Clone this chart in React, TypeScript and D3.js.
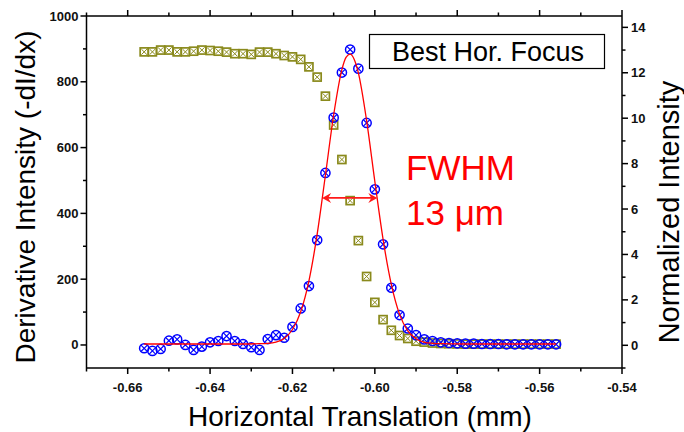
import React from "react";
import * as d3 from "d3";

// horizontal position of every scan point (mm)
const positions = [
  -0.656, -0.654, -0.652, -0.65, -0.648, -0.646, -0.644, -0.642, -0.64, -0.638,
  -0.636, -0.634, -0.632, -0.63, -0.628, -0.626, -0.624, -0.622, -0.62, -0.618,
  -0.616, -0.614, -0.612, -0.61, -0.608, -0.606, -0.604, -0.602, -0.6, -0.598,
  -0.596, -0.594, -0.592, -0.59, -0.588, -0.586, -0.584, -0.582, -0.58, -0.578,
  -0.576, -0.574, -0.572, -0.57, -0.568, -0.566, -0.564, -0.562, -0.56, -0.558,
  -0.556,
];

// derivative -dI/dx (left axis)
const derivative = [
  -10, -18, -12, 13, 17, 0, -15, -5, 8, 12,
  27, 12, 3, -7, -15, 18, 30, 22, 55, 111,
  179, 319, 523, 691, 828, 898, 840, 675, 473, 306,
  174, 91, 50, 30, 17, 12, 8, 6, 5, 4,
  4, 3, 3, 3, 2, 2, 2, 2, 2, 2,
  2,
];

// normalized intensity (right axis)
const normalized = [
  12.92, 12.92, 13.0, 13.0, 12.92, 12.92, 12.95, 13.0, 12.98, 12.95,
  12.91, 12.84, 12.84, 12.81, 12.91, 12.91, 12.84, 12.76, 12.7, 12.59,
  12.26, 11.81, 10.97, 9.7, 8.18, 6.37, 4.61, 3.03, 1.89, 1.13,
  0.66, 0.43, 0.3, 0.18, 0.14, 0.1, 0.08, 0.07, 0.06, 0.05,
  0.05, 0.05, 0.05, 0.05, 0.05, 0.05, 0.05, 0.05, 0.05, 0.05,
  0.05,
];

// gaussian fit line
const fitX = [
  -0.656, -0.65, -0.644, -0.638, -0.632, -0.628, -0.626, -0.624, -0.622, -0.62,
  -0.618, -0.616, -0.614, -0.612, -0.61, -0.608, -0.607, -0.606, -0.605, -0.604,
  -0.602, -0.6, -0.598, -0.596, -0.594, -0.592, -0.59, -0.588, -0.586, -0.584,
  -0.578, -0.57, -0.562, -0.556,
];
const fitY = [
  3, 3, 3, 3, 3, 4, 5, 9, 20, 47,
  101, 195, 337, 516, 699, 837, 874, 884, 868, 827,
  682, 497, 321, 184, 93, 43, 19, 8, 5, 4,
  3, 3, 3, 3,
];

// FWHM marker
const fwhmLeft = -0.6128;
const fwhmRight = -0.5994;
const fwhmLevel = 447;

const xTicks = [-0.66, -0.64, -0.62, -0.6, -0.58, -0.56, -0.54];
const xTickLabels = ["-0.66", "-0.64", "-0.62", "-0.60", "-0.58", "-0.56", "-0.54"];
const xMinor = [-0.67, -0.65, -0.63, -0.61, -0.59, -0.57, -0.55];
const leftTicks = [0, 200, 400, 600, 800, 1000];
const leftMinor = [100, 300, 500, 700, 900];
const rightTicks = [0, 2, 4, 6, 8, 10, 12, 14];
const rightMinor = [-1, 1, 3, 5, 7, 9, 11, 13];

const W = 684;
const H = 432;
const margin = { top: 16, right: 62, bottom: 64, left: 86.5 };
const FONT = "'Liberation Sans', Arial, sans-serif";

export default function App() {
  const x = d3.scaleLinear().domain([-0.67, -0.54]).range([margin.left, W - margin.right]);
  const yL = d3.scaleLinear().domain([-70, 1000]).range([H - margin.bottom, margin.top]);
  const yR = d3.scaleLinear().domain([-1, 14.5]).range([H - margin.bottom, margin.top]);

  const x0 = margin.left;
  const x1 = W - margin.right;
  const y0 = H - margin.bottom;
  const y1 = margin.top;

  const fitLine = d3
    .line<number>()
    .x((d, i) => x(fitX[i]))
    .y((d) => yL(d))
    .curve(d3.curveMonotoneX);

  const ay = yL(fwhmLevel);
  const al = x(fwhmLeft);
  const ar = x(fwhmRight);

  return (
    <svg
      width={W}
      height={H}
      style={{ position: "absolute", left: 0, top: 0, display: "block", background: "#fff" }}
      fontFamily={FONT}
    >
      {/* gold: normalized intensity */}
      {normalized.map((v, i) => (
        <g key={"n" + i} transform={`translate(${x(positions[i])},${yR(v)})`} stroke="#8a8a1c" fill="none">
          <rect x={-4} y={-4} width={8} height={8} strokeWidth={1.7} />
          <path d="M-2.8,-2.8L2.8,2.8M-2.8,2.8L2.8,-2.8" strokeWidth={1} />
        </g>
      ))}

      {/* blue: derivative */}
      {derivative.map((v, i) => (
        <g key={"d" + i} transform={`translate(${x(positions[i])},${yL(v)})`} stroke="#0000ff" fill="none">
          <circle r={4.6} strokeWidth={1.5} />
          <path d="M-3.2,-3.2L3.2,3.2M-3.2,3.2L3.2,-3.2" strokeWidth={1.2} />
        </g>
      ))}

      {/* fit */}
      <path d={fitLine(fitY) || ""} fill="none" stroke="#ff0000" strokeWidth={1.3} />

      {/* FWHM arrow */}
      <line x1={al + 5} x2={ar - 5} y1={ay} y2={ay} stroke="#ff1a1a" strokeWidth={1.6} />
      <path d={`M${al},${ay}L${al + 9},${ay - 5}L${al + 6},${ay}L${al + 9},${ay + 5}Z`} fill="#ff1a1a" />
      <path d={`M${ar},${ay}L${ar - 9},${ay - 5}L${ar - 6},${ay}L${ar - 9},${ay + 5}Z`} fill="#ff1a1a" />
      <text x={406} y={180} fontSize={35} fill="#ff0000">FWHM</text>
      <text x={406} y={225} fontSize={35} fill="#ff0000">13 μm</text>

      {/* legend box */}
      <rect x={369.5} y={34.5} width={235} height={34} fill="#fff" stroke="#000" strokeWidth={1.2} />
      <text x={488} y={61} fontSize={27} textAnchor="middle" fill="#000">Best Hor. Focus</text>

      {/* frame */}
      <g stroke="#000" strokeWidth={1.5} fill="none">
        <line x1={x0} x2={x1} y1={y0} y2={y0} />
        <line x1={x0} x2={x1} y1={y1} y2={y1} />
        <line x1={x0} x2={x0} y1={y1} y2={y0} />
        <line x1={x1} x2={x1} y1={y1} y2={y0} />
        {xTicks.map((t) => (
          <g key={"xt" + t}>
            <line x1={x(t)} x2={x(t)} y1={y0} y2={y0 + 6} />
            <line x1={x(t)} x2={x(t)} y1={y1} y2={y1 - 6} />
          </g>
        ))}
        {xMinor.map((t) => (
          <g key={"xm" + t}>
            <line x1={x(t)} x2={x(t)} y1={y0} y2={y0 + 3.5} />
            <line x1={x(t)} x2={x(t)} y1={y1} y2={y1 - 3.5} />
          </g>
        ))}
        {leftTicks.map((t) => (
          <line key={"lt" + t} x1={x0} x2={x0 - 6} y1={yL(t)} y2={yL(t)} />
        ))}
        {leftMinor.map((t) => (
          <line key={"lm" + t} x1={x0} x2={x0 - 3.5} y1={yL(t)} y2={yL(t)} />
        ))}
        {rightTicks.map((t) => (
          <line key={"rt" + t} x1={x1} x2={x1 + 6} y1={yR(t)} y2={yR(t)} />
        ))}
        {rightMinor.map((t) => (
          <line key={"rm" + t} x1={x1} x2={x1 + 3.5} y1={yR(t)} y2={yR(t)} />
        ))}
      </g>

      {/* tick labels */}
      <g fontSize={13} fill="#111" fontWeight="bold">
        {xTicks.map((t, i) => (
          <text key={"xl" + t} x={x(t)} y={392} textAnchor="middle">{xTickLabels[i]}</text>
        ))}
        {leftTicks.map((t) => (
          <text key={"ll" + t} x={x0 - 8} y={yL(t) + 4.5} textAnchor="end">{t}</text>
        ))}
        {rightTicks.map((t) => (
          <text key={"rl" + t} x={x1 + 9} y={yR(t) + 4.5}>{t}</text>
        ))}
      </g>

      {/* axis titles */}
      <text x={360} y={426} fontSize={28} textAnchor="middle" fill="#000">Horizontal Translation (mm)</text>
      <text transform={`translate(35,197) rotate(-90)`} fontSize={28} textAnchor="middle" fill="#000">
        Derivative Intensity (-dI/dx)
      </text>
      <text transform={`translate(679,212) rotate(-90)`} fontSize={29} textAnchor="middle" fill="#000">
        Normalized Intensity
      </text>
    </svg>
  );
}
